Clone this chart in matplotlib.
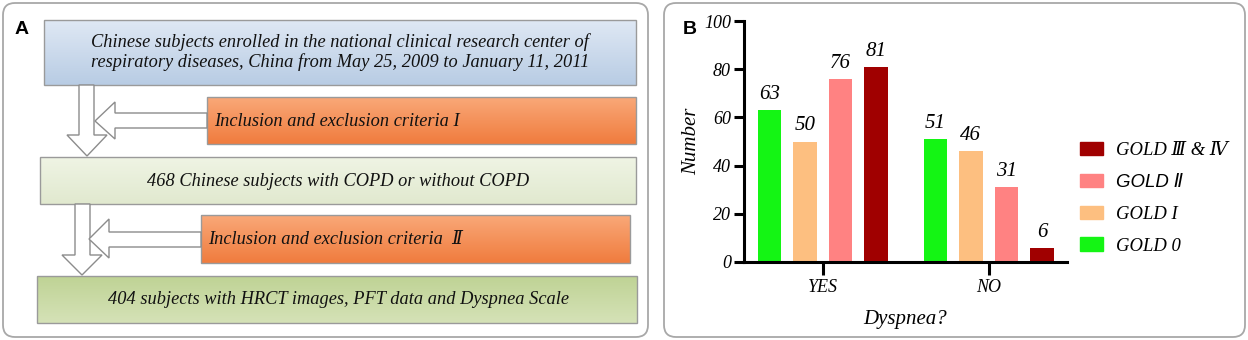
import numpy as np
import matplotlib
matplotlib.use("Agg")
import matplotlib.pyplot as plt
from matplotlib.patches import FancyBboxPatch, Polygon, Patch
from matplotlib.colors import LinearSegmentedColormap

# ---- data for panel B ----
categories = ["YES", "NO"]
series_names = ["GOLD 0", "GOLD I", "GOLD \u2161", "GOLD \u2162 & \u2163"]
gold0 = [63, 51]
gold1 = [50, 46]
gold2 = [76, 31]
gold34 = [81, 6]
bar_colors = ["#14f514", "#fdbf80", "#ff8282", "#a00000"]

# ---- text for panel A ----
box_texts = [
    "Chinese subjects enrolled in the national clinical research center of\n"
    "respiratory diseases, China from May 25, 2009 to January 11, 2011",
    "Inclusion and exclusion criteria I",
    "468 Chinese subjects with COPD or without COPD",
    "Inclusion and exclusion criteria  \u2161",
    "404 subjects with HRCT images, PFT data and Dyspnea Scale",
]

serif = ["Liberation Serif", "DejaVu Serif"]

W, H = 1248, 340
fig = plt.figure(figsize=(W / 100, H / 100), dpi=100)

# background axes in pixel coords (y down)
bg = fig.add_axes([0, 0, 1, 1])
bg.set_axis_off()


def grad_box(x0, y0, x1, y1, c_top, c_bot, edge="#9a9a9a"):
    cmap = LinearSegmentedColormap.from_list("g", [c_top, c_bot])
    g = np.linspace(0, 1, 64).reshape(-1, 1)
    bg.imshow(g, cmap=cmap, extent=(x0, x1, y1, y0), aspect="auto", zorder=2,
              interpolation="bilinear")
    bg.add_patch(plt.Rectangle((x0, y0), x1 - x0, y1 - y0, fill=False,
                               ec=edge, lw=1.0, zorder=3))


def down_arrow(xl, xr, ytop, yhead, hl, hr, tip):
    pts = [(xl, ytop), (xr, ytop), (xr, yhead), (hr, yhead), tip,
           (hl, yhead), (xl, yhead)]
    bg.add_patch(Polygon(pts, closed=True, fc="white", ec="#8c8c8c", lw=1.0, zorder=4))


def left_arrow(xstart, yt, yb, xbase, ht, hb, tip):
    pts = [(xstart, yt), (xbase, yt), (xbase, ht), tip, (xbase, hb),
           (xbase, yb), (xstart, yb)]
    bg.add_patch(Polygon(pts, closed=True, fc="white", ec="#8c8c8c", lw=1.0, zorder=5))


# panel borders
for x0, x1 in [(3, 648), (664, 1245)]:
    bg.add_patch(FancyBboxPatch((x0 + 12, 3 + 12), x1 - x0 - 24, 334 - 24,
                                boxstyle="round,pad=12", fc="white", ec="#a8a8a8",
                                lw=1.3, zorder=1))

# boxes
grad_box(44, 20, 636, 85, "#dfe8f4", "#b8cce4")
grad_box(207, 97, 636, 144, "#f9a878", "#f07c3e")
grad_box(40, 157, 636, 204, "#eff4e4", "#e1e9cf")
grad_box(201, 215, 630, 263, "#f9a878", "#f07c3e")
grad_box(37, 276, 637, 323, "#bfd395", "#d5e2b7")

# arrows
down_arrow(79, 94, 85, 135, 67, 107, (87, 156))
left_arrow(207, 113, 128, 115, 102, 139, (95, 121))
down_arrow(75, 90, 204, 255, 62, 102, (82, 275))
left_arrow(201, 232, 247, 109, 219, 258, (89, 239))

tkw = dict(family=serif, style="italic", fontsize=13.2, zorder=6, color="#111111")
bg.text(340, 52, box_texts[0], ha="center", va="center", linespacing=1.2, **tkw)
bg.text(214, 121, box_texts[1], ha="left", va="center", **tkw)
bg.text(338, 181, box_texts[2], ha="center", va="center", **tkw)
bg.text(208, 240, box_texts[3], ha="left", va="center", **tkw)
bg.text(338, 300, box_texts[4], ha="center", va="center", **tkw)

bg.text(22, 29, "A", ha="center", va="center", fontsize=14, fontweight="bold",
        family="Liberation Sans", zorder=6)
bg.text(690, 29, "B", ha="center", va="center", fontsize=14, fontweight="bold",
        family="Liberation Sans", zorder=6)

bg.set_xlim(0, W)
bg.set_ylim(H, 0)

# ---- panel B bar chart ----
ax_l, ax_r, ax_t, ax_b = 743.6, 1066.5, 21, 262
ax = fig.add_axes([ax_l / W, (H - ax_b) / H, (ax_r - ax_l) / W, (ax_b - ax_t) / H])
ax.set_zorder(3)
ax.patch.set_alpha(0)

x = np.arange(len(categories))
step = 0.214
width = 0.142
all_series = [gold0, gold1, gold2, gold34]
handles = []
for i, (vals, col, name) in enumerate(zip(all_series, bar_colors, series_names)):
    pos = x + (i - 1.5) * step
    ax.bar(pos, vals, width=width, color=col, label=name)
    handles.append(Patch(color=col, label=name))
    for px, v in zip(pos, vals):
        ax.text(px, v + 2.5, str(v), ha="center", va="bottom", family=serif,
                style="italic", fontsize=15)

ax.set_xlim(-0.476, 1.469)
ax.set_ylim(0, 100)
ax.set_yticks(range(0, 101, 20))
ax.set_xticks(x)
ax.set_xticklabels(categories)
for s in ["top", "right"]:
    ax.spines[s].set_visible(False)
for s in ["left", "bottom"]:
    ax.spines[s].set_linewidth(2.2)
ax.tick_params(axis="both", width=2.2, length=7, labelsize=13)
ax.tick_params(axis="x", length=9, pad=3)
ax.tick_params(axis="y", pad=2)
for lab in ax.get_xticklabels() + ax.get_yticklabels():
    lab.set_family(serif)
    lab.set_style("italic")

ax.set_ylabel("Number", family=serif, style="italic", fontsize=15, labelpad=2)
ax.set_xlabel("Dyspnea?", family=serif, style="italic", fontsize=15, labelpad=10)

leg = ax.legend(handles=handles[::-1], loc="center left", bbox_to_anchor=(0.99, 0.265),
                frameon=False, prop=dict(family=serif, style="italic", size=13.4),
                handlelength=1.25, handleheight=0.7, handletextpad=0.7,
                labelspacing=0.8)
leg.get_texts()[1].set_family(["Liberation Sans", "DejaVu Sans"])

fig.savefig("out.png", dpi=100)
